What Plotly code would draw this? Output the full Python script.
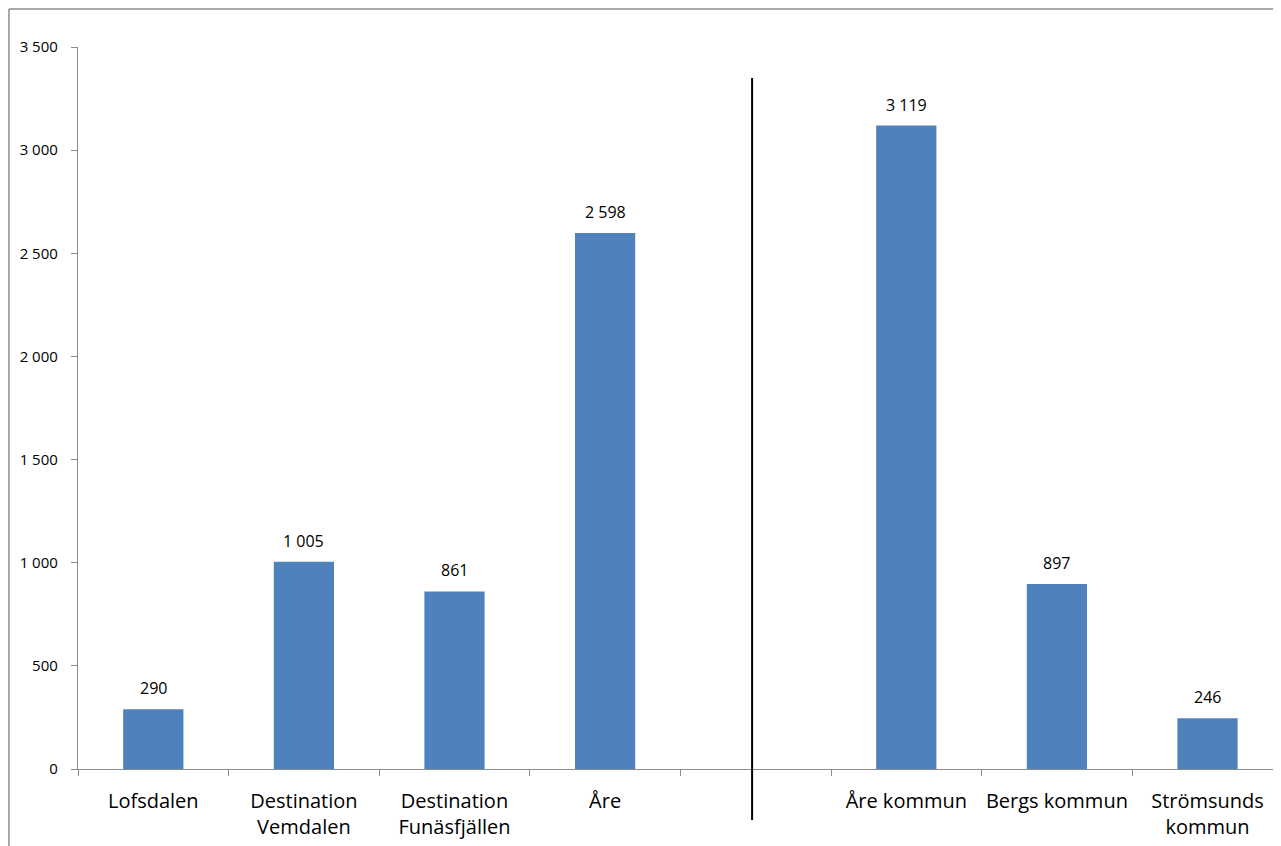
import plotly.graph_objects as go

categories = ["Lofsdalen", "Destination<br>Vemdalen", "Destination<br>Funäsfjällen", "Åre", " ",
              "Åre kommun", "Bergs kommun", "Strömsunds<br>kommun"]
values = [290, 1005, 861, 2598, None, 3119, 897, 246]
y_ticks = [0, 500, 1000, 1500, 2000, 2500, 3000, 3500]

BAR = "#4F81BD"
FONT = "Open Sans"

fig = go.Figure()
fig.add_trace(go.Bar(x=categories, y=values, marker=dict(color=BAR, line=dict(width=0)),
                     width=0.4, hoverinfo="x+y"))

for c, v in zip(categories, values):
    if v is None:
        continue
    fig.add_annotation(x=c, y=v, text=f"{v:,}".replace(",", " "), showarrow=False,
                       yanchor="bottom", yshift=8, font=dict(family=FONT, size=16, color="#000"))

# separator line between destinations and municipalities
fig.add_shape(type="line", xref="x", yref="paper", x0=3.976, x1=3.976, y0=0.957, y1=-0.0706,
              line=dict(color="#000", width=2))
# chart border (top & left visible)
fig.add_shape(type="line", xref="paper", yref="paper", x0=-0.0574, x1=1.01, y0=1.0526, y1=1.0526,
              line=dict(color="#8c8c8c", width=1.5))
fig.add_shape(type="line", xref="paper", yref="paper", x0=-0.0574, x1=-0.0574, y0=1.0526, y1=-0.12,
              line=dict(color="#8c8c8c", width=1.5))

fig.update_layout(
    width=1273, height=838,
    margin=dict(l=70, r=0, t=39, b=77),
    paper_bgcolor="white", plot_bgcolor="white",
    separators=", ",
    showlegend=False,
    font=dict(family=FONT, color="#000"),
    xaxis=dict(type="category", categoryorder="array", categoryarray=categories,
               range=[-0.5, 7.488], tickson="boundaries", ticks="outside", ticklen=6,
               tickcolor="#8c8c8c", showline=True, linecolor="#8c8c8c", linewidth=1.3,
               showgrid=False, tickfont=dict(family=FONT, size=20), ticklabelstandoff=14,
               tickangle=0, automargin=False),
    yaxis=dict(range=[0, 3500], tickvals=y_ticks, tickformat=",d", ticks="outside", ticklen=6,
               tickcolor="#8c8c8c", showline=True, linecolor="#8c8c8c", linewidth=1.3,
               showgrid=False, zeroline=False, tickfont=dict(family=FONT, size=15),
               ticklabelstandoff=10, automargin=False),
)

fig.write_html("out.html")
